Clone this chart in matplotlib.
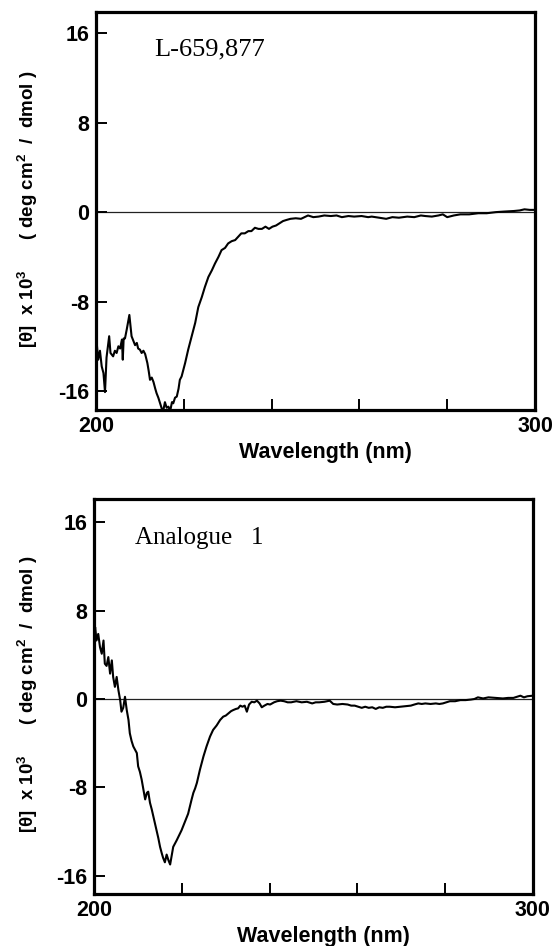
import matplotlib
matplotlib.use("Agg")
import matplotlib.pyplot as plt

# ---------------- data ----------------
wl_top = [200.0, 200.16, 200.5, 200.9, 201.3, 201.7, 202.05, 202.4, 203.0, 203.3,
          203.9, 204.3, 204.7, 205.1, 205.5, 205.9, 206.1, 206.3, 206.6, 207.0,
          207.6, 208.1, 208.5, 208.9, 209.3, 209.6, 210.0, 210.4, 210.8, 211.2,
          211.7, 212.0, 212.3, 212.7, 213.1, 213.5, 213.8, 214.2, 214.6, 215.0,
          215.3, 215.7, 216.1, 216.5, 216.9, 217.3, 217.6, 218.0, 218.4, 218.8,
          219.1, 219.5, 220.3, 221.0, 221.8, 222.6, 223.3, 224.1, 224.8, 225.6,
          226.4, 227.1, 227.9, 228.6, 229.4, 230.1, 230.9, 231.7, 232.4, 233.1,
          233.9, 234.7, 235.4, 236.2, 237.0, 237.8, 238.6, 239.4, 240.2, 241.0,
          241.8, 242.6, 243.4, 244.3, 245.5, 246.7, 247.5, 248.3, 249.5, 250.7,
          252.0, 253.5, 254.8, 256.0, 257.5, 258.8, 260.5, 262.0, 262.8, 264.5,
          266.1, 267.5, 269.0, 270.9, 272.5, 274.0, 275.0, 276.5, 278.0, 279.0,
          280.0, 281.5, 283.0, 285.0, 287.1, 289.0, 291.1, 293.0, 295.2, 296.5,
          297.6, 298.8, 300.0]
cd_top = [-11.9, -11.7, -13.2, -12.4, -13.8, -14.4, -16.1, -13.0, -11.1, -12.6,
          -12.9, -12.4, -12.6, -12.0, -12.2, -11.4, -13.2, -11.3, -11.3, -10.5,
          -9.2, -11.1, -11.5, -11.9, -11.7, -12.2, -12.3, -12.6, -12.4, -12.7,
          -13.5, -14.2, -15.0, -14.8, -15.2, -15.8, -16.2, -16.6, -17.1, -17.6,
          -17.8, -17.0, -17.5, -17.4, -17.8, -17.0, -17.1, -16.6, -16.5, -15.8,
          -15.0, -14.7, -13.5, -12.3, -11.1, -9.9, -8.5, -7.6, -6.7, -5.8,
          -5.2, -4.6, -4.0, -3.4, -3.2, -2.8, -2.6, -2.5, -2.2, -1.9,
          -1.9, -1.7, -1.7, -1.4, -1.5, -1.5, -1.3, -1.5, -1.3, -1.2,
          -1.0, -0.8, -0.7, -0.6, -0.55, -0.6, -0.45, -0.3, -0.45, -0.4,
          -0.3, -0.35, -0.3, -0.45, -0.35, -0.4, -0.35, -0.45, -0.4, -0.5,
          -0.6, -0.45, -0.5, -0.4, -0.45, -0.3, -0.35, -0.4, -0.3, -0.2,
          -0.45, -0.3, -0.2, -0.2, -0.1, -0.1, 0.0, 0.05, 0.1, 0.15,
          0.25, 0.2, 0.2]

wl_bot = [200.0, 200.2, 200.5, 200.9, 201.3, 201.7, 202.1, 202.4, 202.8, 203.2,
          203.6, 204.0, 204.3, 204.7, 205.1, 205.5, 205.9, 206.2, 206.6, 207.0,
          207.4, 207.8, 208.1, 208.5, 208.9, 209.3, 209.7, 210.0, 210.4, 210.8,
          211.2, 211.6, 212.0, 212.3, 212.7, 213.1, 213.5, 213.8, 214.2, 214.6,
          215.0, 215.4, 215.7, 216.1, 216.5, 216.9, 217.3, 217.6, 218.0, 218.4,
          218.8, 219.3, 219.9, 220.3, 220.7, 221.4, 222.2, 222.6, 223.0, 223.4,
          224.1, 224.9, 225.6, 226.4, 227.1, 227.9, 228.7, 229.4, 230.0, 230.6,
          231.2, 231.7, 232.3, 232.8, 233.3, 233.8, 234.3, 234.8, 235.3, 235.9,
          236.5, 237.1, 237.7, 238.2, 238.8, 239.5, 240.1, 241.0, 241.7, 242.5,
          243.3, 244.1, 244.9, 246.1, 247.3, 248.5, 249.7, 250.5, 251.3, 252.5,
          253.7, 254.5, 255.4, 256.6, 257.8, 258.6, 259.4, 260.2, 261.0, 261.8,
          262.6, 263.4, 264.2, 265.0, 265.8, 266.6, 267.4, 268.6, 269.8, 271.0,
          272.2, 273.0, 273.9, 274.7, 275.5, 276.7, 277.9, 278.7, 279.5, 280.3,
          281.1, 282.3, 283.5, 284.7, 285.9, 286.7, 287.5, 288.7, 289.9, 291.5,
          293.2, 294.4, 295.6, 296.4, 297.2, 298.0, 298.8, 300.0]
cd_bot = [6.0, 6.5, 5.3, 5.9, 4.7, 4.1, 5.3, 3.2, 3.0, 3.8,
          2.3, 3.5, 2.0, 1.1, 2.0, 0.8, -0.1, -1.15, -0.8, 0.2,
          -1.0, -1.9, -3.1, -3.8, -4.3, -4.6, -4.9, -6.1, -6.6, -7.3,
          -8.2, -9.1, -8.5, -8.4, -9.4, -10.0, -10.7, -11.2, -11.9, -12.6,
          -13.4, -14.0, -14.4, -14.8, -14.1, -14.6, -15.0, -14.3, -13.4, -13.1,
          -12.8, -12.4, -11.9, -11.5, -11.1, -10.4, -9.1, -8.5, -8.1, -7.6,
          -6.4, -5.2, -4.3, -3.4, -2.8, -2.4, -1.9, -1.6, -1.5, -1.3,
          -1.1, -1.0, -0.9, -0.85, -0.6, -0.7, -0.6, -1.15, -0.5, -0.25,
          -0.3, -0.15, -0.4, -0.75, -0.6, -0.45, -0.5, -0.3, -0.2, -0.15,
          -0.2, -0.3, -0.3, -0.2, -0.3, -0.25, -0.4, -0.3, -0.3, -0.25,
          -0.15, -0.45, -0.5, -0.45, -0.5, -0.6, -0.6, -0.7, -0.8, -0.7,
          -0.8, -0.75, -0.9, -0.75, -0.8, -0.7, -0.7, -0.75, -0.7, -0.65,
          -0.6, -0.5, -0.4, -0.45, -0.4, -0.45, -0.4, -0.45, -0.4, -0.3,
          -0.2, -0.2, -0.1, -0.1, -0.05, 0.0, 0.15, 0.05, 0.15, 0.1,
          0.05, 0.1, 0.1, 0.2, 0.3, 0.15, 0.25, 0.3]

panel_titles = ["L-659,877", "Analogue   1"]
x_ticks = [200, 220, 240, 260, 280, 300]
x_ticklabels = ["200", "", "", "", "", "300"]
y_ticks = [-16, -8, 0, 8, 16]
y_ticklabels = ["-16", "-8", "0", "8", "16"]
x_label = "Wavelength (nm)"
y_label = r"[θ]  x 10$^{3}$      ( deg cm$^{2}$  /  dmol )"

# ---------------- figure ----------------
sans = ["Liberation Sans", "DejaVu Sans"]
serif = ["Liberation Serif", "DejaVu Serif"]
plt.rcParams["mathtext.fontset"] = "custom"
plt.rcParams["mathtext.rm"] = "Liberation Sans:bold"
plt.rcParams["mathtext.bf"] = "Liberation Sans:bold"

fig = plt.figure(figsize=(5.56, 9.46), dpi=100)

W, H = 556.0, 946.0
boxes = [  # left, right, top, bottom in pixels
    (96.0, 535.0, 12.0, 410.0),
    (94.3, 532.7, 499.3, 894.3),
]
ylims = [(-17.7, 17.9), (-17.7, 18.1)]
title_pos = [(0.132, 0.892), (0.093, 0.887)]
title_size = [19, 18]
curves = [(wl_top, cd_top), (wl_bot, cd_bot)]

for i, (l, r, t, b) in enumerate(boxes):
    ax = fig.add_axes([l / W, 1 - b / H, (r - l) / W, (b - t) / H])
    wl, cd = curves[i]
    ax.axhline(0, color="#222222", lw=0.9, zorder=1)
    ax.plot(wl, cd, color="black", lw=1.5, zorder=2)
    ax.set_xlim(200, 300)
    ax.set_ylim(*ylims[i])
    ax.set_xticks(x_ticks)
    ax.set_xticklabels(x_ticklabels)
    ax.set_yticks(y_ticks)
    ax.set_yticklabels(y_ticklabels)
    ax.tick_params(axis="both", direction="in", length=8, width=1.4,
                   labelsize=15.5, pad=5)
    ax.tick_params(axis="x", top=False, pad=4)
    ax.tick_params(axis="y", right=False, pad=5)
    for lab in ax.get_xticklabels() + ax.get_yticklabels():
        lab.set_family(sans)
        lab.set_fontweight("bold")
    for sp in ax.spines.values():
        sp.set_linewidth(2.3)
    ax.set_xlabel(x_label, family=sans, fontweight="bold", fontsize=15.5,
                  va="center")
    ax.xaxis.set_label_coords(0.522, -42.0 / (b - t))
    ax.set_ylabel(y_label, family=sans, fontweight="bold", fontsize=13.5,
                  va="center")
    ax.yaxis.set_label_coords((28.0 - l) / (r - l), 0.505)
    tx, ty = title_pos[i]
    ax.text(tx, ty, panel_titles[i], transform=ax.transAxes, family=serif,
            fontsize=title_size[i], ha="left", va="baseline")

fig.savefig("out.png", dpi=100)
